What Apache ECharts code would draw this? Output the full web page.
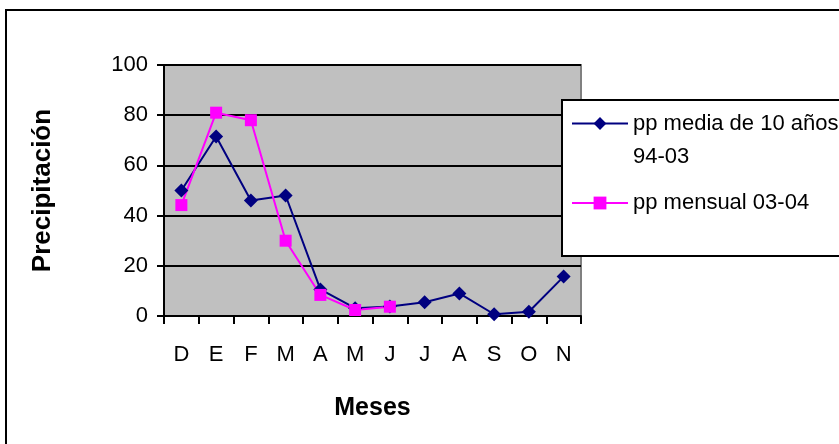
<!DOCTYPE html>
<html>
<head>
<meta charset="utf-8">
<script src="https://cdn.jsdelivr.net/npm/echarts@6/dist/echarts.min.js"></script>
<style>html,body{margin:0;padding:0;background:#fff}#c{width:839px;height:444px}</style>
</head>
<body>
<div id="c"></div>
<script>
var months = ['D','E','F','M','A','M','J','J','A','S','O','N'];
var mediaName = 'pp media de 10 años 94-03';
var mensualName = 'pp mensual 03-04';
var mediaValues = [50, 71.5, 46, 48, 10.6, 3.1, 3.8, 5.5, 9, 0.7, 1.7, 15.7];
var mensualValues = [44.2, 81, 78, 30, 8.4, 2.4, 3.7];
var yTicks = { min: 0, max: 100, interval: 20 };

var FONT = '"Liberation Sans", Arial, sans-serif';
var chart = echarts.init(document.getElementById('c'), null, { renderer: 'canvas' });
chart.setOption({
  backgroundColor: '#fff',
  animation: false,
  graphic: [
    { type: 'rect', z: -10, shape: { x: 6, y: 10, width: 900, height: 500 },
      style: { fill: '#fff', stroke: '#000', lineWidth: 2 } },
    { type: 'rect', z: 5, shape: { x: 562, y: 100, width: 300, height: 156 },
      style: { fill: '#fff', stroke: '#000', lineWidth: 2 } }
  ],
  grid: {
    left: 164, top: 65, width: 417, height: 251,
    show: true, backgroundColor: '#c0c0c0', borderColor: '#808080', borderWidth: 2
  },
  legend: [
    {
      z: 10, left: 566, top: 69, orient: 'vertical',
      itemWidth: 56, itemHeight: 16, itemGap: 0,
      data: [mediaName],
      formatter: function () { return ' \npp media de 10 años\n94-03'; },
      textStyle: { fontFamily: FONT, fontSize: 22, color: '#000', lineHeight: 33 }
    },
    {
      z: 10, left: 566, top: 187, orient: 'vertical',
      itemWidth: 56, itemHeight: 16,
      data: [mensualName],
      textStyle: { fontFamily: FONT, fontSize: 22, color: '#000' }
    }
  ],
  xAxis: {
    type: 'category', data: months, boundaryGap: true,
    name: 'Meses', nameLocation: 'middle', nameGap: 80,
    nameTextStyle: { fontFamily: FONT, fontSize: 25, fontWeight: 'bold', color: '#000' },
    axisLine: { lineStyle: { color: '#000', width: 2 } },
    axisTick: { show: true, length: 8, lineStyle: { color: '#000', width: 2 } },
    axisLabel: { fontFamily: FONT, fontSize: 22, color: '#000', margin: 28 },
    splitLine: { show: false }
  },
  yAxis: {
    type: 'value', min: yTicks.min, max: yTicks.max, interval: yTicks.interval,
    name: 'Precipitación', nameLocation: 'middle', nameGap: 108,
    nameTextStyle: { fontFamily: FONT, fontSize: 26, fontWeight: 'bold', color: '#000' },
    axisLine: { show: true, lineStyle: { color: '#000', width: 2 } },
    axisTick: { show: true, length: 7, lineStyle: { color: '#000', width: 2 } },
    axisLabel: { fontFamily: FONT, fontSize: 22, color: '#000', margin: 16 },
    splitLine: { show: true, lineStyle: { color: '#000', width: 2 } }
  },
  series: [
    {
      name: mediaName, type: 'line', data: mediaValues,
      symbol: 'diamond', symbolSize: 14, showAllSymbol: true,
      lineStyle: { color: '#000080', width: 2 },
      itemStyle: { color: '#000080' }
    },
    {
      name: mensualName, type: 'line', data: mensualValues,
      symbol: 'rect', symbolSize: 12, showAllSymbol: true,
      lineStyle: { color: '#ff00ff', width: 2 },
      itemStyle: { color: '#ff00ff' }
    }
  ]
});
</script>
</body>
</html>
